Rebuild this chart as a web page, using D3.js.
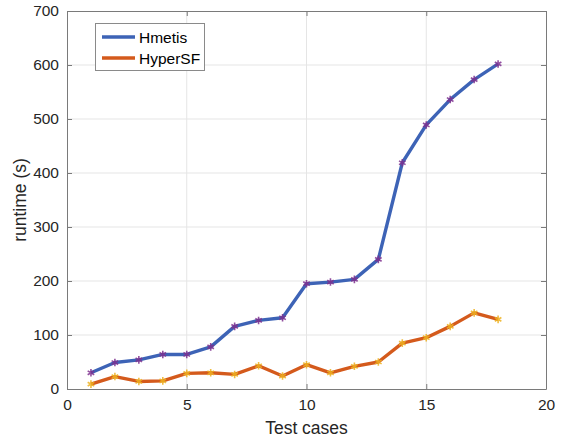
<!DOCTYPE html>
<html><head><meta charset="utf-8">
<script src="https://cdn.jsdelivr.net/npm/d3@7"></script>
<style>body{margin:0;background:#fff;}svg{display:block;font-family:"Liberation Sans",Arial,sans-serif;}</style>
</head><body><svg id="c" width="570" height="441"></svg>
<script>
const testCases = [1,2,3,4,5,6,7,8,9,10,11,12,13,14,15,16,17,18];
const hmetis = [30,49,54,64,64,78,116,127,132,195,198,203,240,419,489,536,573,602];
const hypersf = [9,23,14,15,29,30,27,43,24,45,30,42,50,85,95,116,141,129];
const xTicks = [0,5,10,15,20];
const yTicks = [0,100,200,300,400,500,600,700];
const seriesNames = ["Hmetis","HyperSF"];

const svg = d3.select("#c");
const L=67,R=546,T=11,B=389;
const x = d3.scaleLinear().domain([0,20]).range([L,R]);
const y = d3.scaleLinear().domain([0,700]).range([B,T]);
const axisCol="#7a7a7a";

// grid
svg.append("g").selectAll("line.gx").data(xTicks.slice(1,-1)).join("line")
  .attr("x1",d=>x(d)).attr("x2",d=>x(d)).attr("y1",T).attr("y2",B).attr("stroke","#e5e5e5").attr("stroke-width",1);
svg.append("g").selectAll("line.gy").data(yTicks.slice(1,-1)).join("line")
  .attr("y1",d=>y(d)).attr("y2",d=>y(d)).attr("x1",L).attr("x2",R).attr("stroke","#e5e5e5").attr("stroke-width",1);

// axes
const tl=5;
const ax = (g)=>{g.select(".domain").attr("stroke",axisCol);g.selectAll(".tick line").attr("stroke",axisCol);g.selectAll("text").attr("fill","#262626").style("font-size","15.5px").style("font-family","'Liberation Sans',Arial,sans-serif");};
svg.append("g").attr("transform",`translate(0,${B})`).call(d3.axisBottom(x).tickValues(xTicks).tickSizeInner(-tl).tickSizeOuter(0).tickPadding(10)).call(ax);
svg.append("g").attr("transform",`translate(0,${T})`).call(d3.axisTop(x).tickValues(xTicks).tickSizeInner(-tl).tickSizeOuter(0).tickFormat("")).call(ax);
svg.append("g").attr("transform",`translate(${L},0)`).call(d3.axisLeft(y).tickValues(yTicks).tickSizeInner(-tl).tickSizeOuter(0).tickPadding(8)).call(ax);
svg.append("g").attr("transform",`translate(${R},0)`).call(d3.axisRight(y).tickValues(yTicks).tickSizeInner(-tl).tickSizeOuter(0).tickFormat("")).call(ax);

// labels
svg.append("text").attr("x",(L+R)/2).attr("y",434).attr("text-anchor","middle").style("font-size","17.5px").attr("fill","#262626").text("Test cases");
svg.append("text").attr("transform",`translate(26,${(T+B)/2}) rotate(-90)`).attr("text-anchor","middle").style("font-size","17.5px").attr("fill","#262626").text("runtime (s)");

const line = d3.line().x((d,i)=>x(testCases[i])).y(d=>y(d));
const star = d3.symbol().type(d3.symbolAsterisk).size(40);
function drawSeries(vals,lc,mc){
  svg.append("path").datum(vals).attr("d",line).attr("fill","none").attr("stroke",lc).attr("stroke-width",3.4).attr("stroke-linejoin","round");
  svg.append("g").selectAll("path").data(vals).join("path")
    .attr("transform",(d,i)=>`translate(${x(testCases[i])},${y(d)})`).attr("d",star)
    .attr("fill","none").attr("stroke",mc).attr("stroke-width",1.6).attr("opacity",0.85);
}
drawSeries(hmetis,"#3d63b6","#7e2f8e");
drawSeries(hypersf,"#d45a1c","#edb120");

// legend
const lg = svg.append("g");
lg.append("rect").attr("x",95.5).attr("y",23.5).attr("width",109).attr("height",47).attr("fill","#fff").attr("stroke","#8a8a8a").attr("stroke-width",1);
const cols=["#3d63b6","#d45a1c"];
seriesNames.forEach((n,i)=>{
  const yy=37+i*21;
  lg.append("line").attr("x1",102).attr("x2",135).attr("y1",yy).attr("y2",yy).attr("stroke",cols[i]).attr("stroke-width",3.4);
  lg.append("text").attr("x",139).attr("y",yy+5.5).style("font-size","15.5px").attr("fill","#000").text(n);
});
</script></body></html>
